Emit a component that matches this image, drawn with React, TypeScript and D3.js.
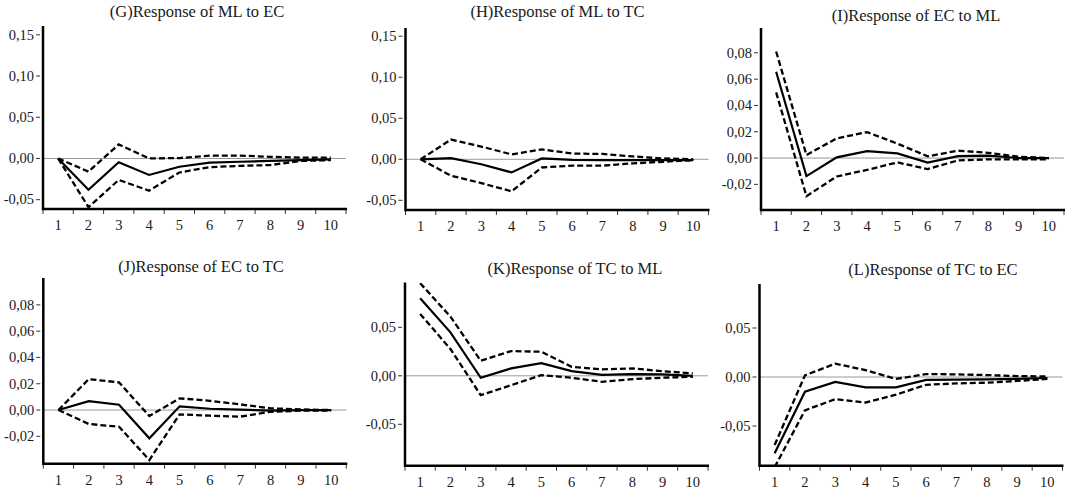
import React from "react";
import * as d3 from "d3";

// ---- data ----
const steps = ["1", "2", "3", "4", "5", "6", "7", "8", "9", "10"];

const titles = [
  "(G)Response of ML to EC",
  "(H)Response of ML to TC",
  "(I)Response of EC to ML",
  "(J)Response of EC to TC",
  "(K)Response of TC to ML",
  "(L)Response of TC to EC",
];

const ticksWide = [-0.05, 0, 0.05, 0.1, 0.15];
const ticksSmall = [-0.02, 0, 0.02, 0.04, 0.06, 0.08];
const ticksMid = [-0.05, 0, 0.05];

const gMid = [0, -0.038, -0.0045, -0.02, -0.01, -0.005, -0.004, -0.003, -0.002, -0.001];
const gUp = [0, -0.016, 0.017, 0.0, 0.0005, 0.0035, 0.0035, 0.002, 0.001, 0.001];
const gLo = [0, -0.059, -0.026, -0.039, -0.017, -0.0105, -0.009, -0.008, -0.003, -0.002];

const hMid = [0, 0.0015, -0.006, -0.016, 0.001, -0.0008, -0.001, -0.001, -0.001, -0.001];
const hUp = [0, 0.024, 0.0155, 0.006, 0.012, 0.007, 0.0065, 0.0035, 0.001, 0.0];
const hLo = [0, -0.02, -0.029, -0.039, -0.01, -0.0077, -0.0077, -0.005, -0.003, -0.001];

const iMid = [0.0656, -0.0137, 0.0005, 0.0053, 0.0035, -0.0035, 0.0015, 0.0018, 0, 0];
const iUp = [0.081, 0.0023, 0.015, 0.0197, 0.011, 0.0013, 0.0056, 0.004, 0.001, 0];
const iLo = [0.05, -0.029, -0.014, -0.009, -0.0033, -0.0084, -0.0018, -0.001, -0.001, -0.001];

const jMid = [0, 0.0068, 0.004, -0.0215, 0.0028, 0.001, 0.0003, -0.0005, 0, 0];
const jUp = [0, 0.0235, 0.021, -0.0046, 0.0089, 0.007, 0.0043, 0.0013, 0.0005, 0];
const jLo = [0, -0.0106, -0.0127, -0.038, -0.0033, -0.0043, -0.005, -0.0013, -0.0005, -0.0005];

const kMid = [0.08, 0.0448, -0.002, 0.0076, 0.0131, 0.0048, 0.001, 0.0017, 0.0014, 0];
const kUp = [0.0955, 0.061, 0.0155, 0.0255, 0.0248, 0.0093, 0.0066, 0.0076, 0.0048, 0.0024];
const kLo = [0.0638, 0.0276, -0.02, -0.0097, 0.0007, -0.002, -0.0062, -0.0034, -0.002, -0.001];

const lMid = [-0.0779, -0.015, -0.005, -0.0105, -0.0105, -0.003, -0.0027, -0.0025, -0.002, -0.001];
const lUp = [-0.0694, 0.0017, 0.0136, 0.007, -0.002, 0.003, 0.0027, 0.002, 0.001, 0.0005];
const lLo = [-0.092, -0.034, -0.0226, -0.026, -0.018, -0.008, -0.0065, -0.0058, -0.004, -0.002];

const domG = [-0.0613, 0.1607];
const domH = [-0.0618, 0.16];
const domI = [-0.0395, 0.0989];
const domJ = [-0.0408, 0.1004];
const domK = [-0.0927, 0.0962];
const domL = [-0.0905, 0.0949];

// ---- layout ----
const W = 1072;
const H = 492;
const PW = 303;
const FONT = "'Liberation Serif', 'Times New Roman', serif";

type Panel = {
  title: string;
  left: number;
  top: number;
  bottom: number;
  dom: number[];
  ticks: number[];
  mid: number[];
  up: number[];
  lo: number[];
  tx: number;
  ty: number;
};

const panels: Panel[] = [
  { title: titles[0], left: 43, top: 26, bottom: 209, dom: domG, ticks: ticksWide, mid: gMid, up: gUp, lo: gLo, tx: 197, ty: 16.7 },
  { title: titles[1], left: 405.5, top: 28, bottom: 210, dom: domH, ticks: ticksWide, mid: hMid, up: hUp, lo: hLo, tx: 557.5, ty: 17.3 },
  { title: titles[2], left: 761, top: 28, bottom: 210, dom: domI, ticks: ticksSmall, mid: iMid, up: iUp, lo: iLo, tx: 916, ty: 21 },
  { title: titles[3], left: 43.3, top: 278, bottom: 463.7, dom: domJ, ticks: ticksSmall, mid: jMid, up: jUp, lo: jLo, tx: 201, ty: 271.7 },
  { title: titles[4], left: 405, top: 282.5, bottom: 465.7, dom: domK, ticks: ticksMid, mid: kMid, up: kUp, lo: kLo, tx: 575, ty: 274 },
  { title: titles[5], left: 759.5, top: 284, bottom: 465.7, dom: domL, ticks: ticksMid, mid: lMid, up: lUp, lo: lLo, tx: 933, ty: 275 },
];

const fmt = (v: number) => (v < 0 ? "-" : "") + Math.abs(v).toFixed(2).replace(".", ",");

function PanelView({ p, idx }: { p: Panel; idx: number }) {
  const x = d3.scaleBand<string>().domain(steps).range([p.left, p.left + PW]);
  const y = d3.scaleLinear().domain(p.dom).range([p.bottom, p.top]);
  const bw = x.bandwidth();
  const line = d3
    .line<number>()
    .x((_, i) => (x(steps[i]) as number) + bw / 2)
    .y((v) => y(v));
  const clipId = `clip-${idx}`;
  const right = p.left + PW;
  const bounds = [...steps.map((s) => x(s) as number), right];
  return (
    <g>
      <defs>
        <clipPath id={clipId}>
          <rect x={p.left} y={p.top} width={PW + 4} height={p.bottom - p.top} />
        </clipPath>
      </defs>
      <text x={p.tx} y={p.ty} textAnchor="middle" fontFamily={FONT} fontSize={16.5} fill="#1a1a1a">
        {p.title}
      </text>
      {/* zero line */}
      <line x1={p.left} x2={right} y1={y(0)} y2={y(0)} stroke="#9a9a9a" strokeWidth={1} />
      {/* y ticks */}
      {p.ticks.map((t) => (
        <g key={t}>
          <line x1={p.left - 7} x2={p.left - 3} y1={y(t)} y2={y(t)} stroke="#333" strokeWidth={1} />
          <text x={p.left - 9} y={y(t)} dy="0.33em" textAnchor="end" fontFamily={FONT} fontSize={14.5} fill="#1a1a1a">
            {fmt(t)}
          </text>
        </g>
      ))}
      {/* x ticks */}
      {bounds.map((b, i) => (
        <line key={i} x1={b} x2={b} y1={p.bottom} y2={p.bottom + 5} stroke="#333" strokeWidth={1} />
      ))}
      {steps.map((s) => (
        <text
          key={s}
          x={(x(s) as number) + bw / 2}
          y={p.bottom + 21}
          textAnchor="middle"
          fontFamily={FONT}
          fontSize={14.5}
          fill="#1a1a1a"
        >
          {s}
        </text>
      ))}
      <g clipPath={`url(#${clipId})`} fill="none" stroke="#000">
        <path d={line(p.up) || ""} strokeWidth={2.3} strokeDasharray="6,3" />
        <path d={line(p.lo) || ""} strokeWidth={2.3} strokeDasharray="6,3" />
        <path d={line(p.mid) || ""} strokeWidth={2.2} />
      </g>
      {/* axes */}
      <line x1={p.left} x2={p.left} y1={p.top} y2={p.bottom + 1.25} stroke="#000" strokeWidth={2.5} />
      <line x1={p.left} x2={right + 1} y1={p.bottom} y2={p.bottom} stroke="#000" strokeWidth={2.5} />
    </g>
  );
}

export default function App() {
  return (
    <svg
      width={W}
      height={H}
      viewBox={`0 0 ${W} ${H}`}
      style={{ position: "absolute", left: 0, top: 0, background: "#fff" }}
    >
      <rect x={0} y={0} width={W} height={H} fill="#fff" />
      {panels.map((p, i) => (
        <PanelView key={i} p={p} idx={i} />
      ))}
    </svg>
  );
}
